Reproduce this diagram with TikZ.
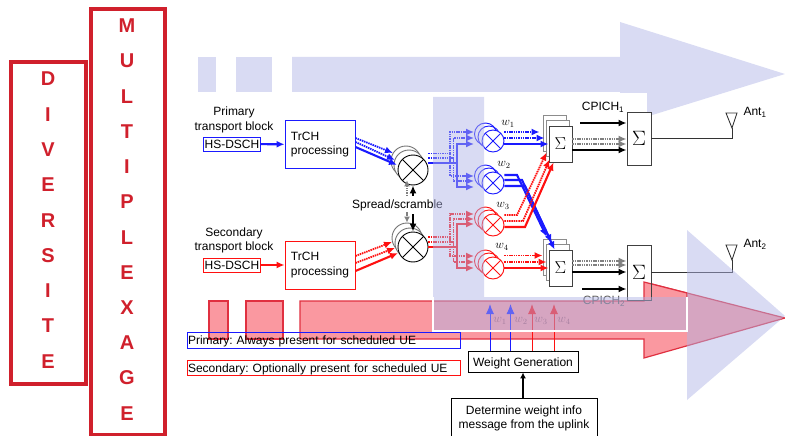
\documentclass[tikz,border=0pt]{standalone}
\usepackage{fontspec}
\setmainfont{Liberation Sans}
\usetikzlibrary{arrows.meta}
\definecolor{wblue}{HTML}{1A1AFF}
\definecolor{wred}{HTML}{FF1010}
\definecolor{paleblue}{HTML}{D9DBF3}
\definecolor{veilblue}{HTML}{B0B4E6}
\definecolor{pinkfill}{HTML}{FA98A0}
\definecolor{pinkline}{HTML}{E03040}
\definecolor{boxred}{HTML}{D0202C}
\definecolor{wlabel}{HTML}{9D4F60}
\frenchspacing
\tikzset{
    every node/.style={font=\fontsize{12}{14.4}\selectfont},
    letterbox/.style={draw=boxred, line width=3.5},
    bigletter/.style={text=boxred, font=\fontsize{20}{20}\selectfont\bfseries},
    tip/.style={-{Latex[length=8,width=7]}},
    thin tip/.style={-{Latex[length=6,width=6]}},
    trchbox/.style={draw, fill=white, minimum width=70, minimum height=48, align=left},
    hsbox/.style={draw, fill=white, inner sep=0pt, minimum width=57, minimum height=14},
    multnode/.style={circle, draw, fill=white, inner sep=0pt, minimum size=30, path picture={
        \draw (path picture bounding box.north west) -- (path picture bounding box.south east);
        \draw (path picture bounding box.south west) -- (path picture bounding box.north east);}},
    stackring/.style={circle, draw, inner sep=0pt},
    sumbox/.style={draw=black!75, fill=white, minimum width=23, minimum height=36, inner sep=0pt},
    stackbox/.style={draw=black!45, fill=white, minimum width=23, minimum height=36},
    dots/.style={dash pattern=on 1.5pt off 0.8pt, line width=1.8},
    solid line/.style={line width=2.1},
    antenna/.style={draw=black!80},
}
\begin{document}
\begin{tikzpicture}[x=1pt, y=-1pt, line width=0.9]
    \clip (0,0) rectangle (785,436);

    % Left boxes
    \node[letterbox, minimum width=75, minimum height=322] (diversite) at (48.5,223) {};
    \node[letterbox, minimum width=74, minimum height=426] (multiplexage) at (128,222) {};
    \foreach \i/\l in {0/D,1/I,2/V,3/E,4/R,5/S,6/I,7/T,8/E} {
        \node[bigletter] (div\i) at (48,79+\i*35.3) {\l};
    }
    \foreach \i/\l in {0/M,1/U,2/L,3/T,4/I,5/P,6/L,7/E,8/X,9/A,10/G,11/E} {
        \node[bigletter] (mul\i) at (127,26+\i*35.2) {\l};
    }

    % Upper arrow
    \fill[paleblue] (198,57) rectangle (216,92);
    \fill[paleblue] (236,57) rectangle (272,92);
    \fill[paleblue] (292,57) -- (620,57) -- (620,22) -- (785,74) -- (620,125) -- (620,92) -- (292,92) -- cycle;

    % White panel
    \fill[white] (484,93) rectangle (647,297);
    \fill[white] (647,230) rectangle (687,297);

    % Lower arrow
    \draw[pinkline, fill=pinkfill, line width=1.2] (209,301) rectangle (228,339);
    \draw[pinkline, fill=pinkfill, line width=1.2] (246,301) rectangle (283,339);
    \draw[pinkline, fill=pinkfill, line width=1.2] (300,301) -- (644,301) -- (644,282) -- (785,318) -- (644,358) -- (644,339) -- (300,339) -- cycle;

    % Transport blocks
    \node[align=center] (primary) at (234,120) {Primary\\transport block};
    \node[align=center] (secondary) at (234,240.5) {Secondary\\transport block};
    \node[hsbox, draw=wblue] (hsA) at (232,144) {HS-DSCH};
    \node[hsbox, draw=wred] (hsB) at (232,265) {HS-DSCH};
    \node[trchbox, draw=wblue] (trchA) at (320,144.5) {TrCH\\processing};
    \node[trchbox, draw=wred] (trchB) at (320,265) {TrCH\\processing};
    \draw[tip, wblue, solid line] (hsA) -- (trchA);
    \draw[tip, wred, solid line] (hsB) -- (trchB);

    % Spreaders
    \foreach \n/\x/\y in {A/406/161,B/409/165,C/407/238,D/410/243} {
        \node[multnode, draw=black!55, path picture={}] (ring\n) at (\x,\y) {};
    }
    \node[multnode] (ma) at (413,170) {};
    \node[multnode] (mb) at (413,247) {};
    \draw[tip, wblue, dots] (trchA.east |- 0,138) -- ([shift={(-20,-17)}]ma.center);
    \draw[tip, wblue, dots] (trchA.east |- 0,142) -- ([shift={(-18,-10)}]ma.center);
    \draw[tip, wblue, solid line] (trchA.east |- 0,147) -- ([shift={(-16,-5)}]ma.center);
    \draw[tip, wred, dots] (trchB.east |- 0,256) -- ([shift={(-21,-5)}]mb.center);
    \draw[tip, wred, dots] (trchB.east |- 0,263) -- ([shift={(-18,1)}]mb.center);
    \draw[tip, wred, solid line] (trchB.east |- 0,271) -- ([shift={(-15,6)}]mb.center);

    % Scrambling code
    \node (spread) at (397.5,205) {Spread/scramble};
    \draw[thin tip, black!50, dots] (407,196) -- (ringB.south -| 407,0);
    \draw[thin tip, black!50, dots] (407,212) -- (ringC.north -| 407,0);
    \draw[tip, line width=2.2] (spread.north -| ma) -- (ma);
    \draw[tip, line width=2.2] (spread.south -| mb) -- (mb);

    % Weighting
    \foreach \n/\y/\col in {1/141/wblue,2/183/wblue,3/225/wred,4/268/wred} {
        \node[stackring, minimum size=22, draw=\col] (wringa\n) at (485.5,\y-7) {};
        \node[stackring, minimum size=22, draw=\col] (wringb\n) at (489,\y-4) {};
        \node[multnode, minimum size=22, draw=\col] (mw\n) at (493,\y) {};
    }
    \foreach \x/\bus/\up/\dn/\rise/\fall/\col/\sty in {
            450/153.5/132/176/1/2/wblue/dots,
            453.5/158/138/181/1/2/wblue/dots,
            457/163/144/187/1/2/wblue/solid line,
            450/237/214/256/3/4/wred/dots,
            453.5/242/219/262/3/4/wred/dots,
            457/247/224/268/3/4/wred/solid line} {
        \draw[\col, \sty, line width=1.6] (\ifnum\rise=1 ma\else mb\fi.east |- 0,\bus) -- (\x,\bus);
        \draw[tip, \col, \sty, line width=1.6] (\x,\bus) -- (\x,\up) -- (wringa\rise.west |- 0,\up);
        \draw[tip, \col, \sty, line width=1.6] (\x,\bus) -- (\x,\dn) -- (wringa\fall.west |- 0,\dn);
    }
    \node (lw1) at (508,124) {$w_1$};
    \node (lw2) at (504,165) {$w_2$};
    \node (lw3) at (503,206) {$w_3$};
    \node (lw4) at (502,247) {$w_4$};

    % First sums
    \foreach \n/\y in {A/144,B/268} {
        \node[stackbox] (sbacka\n) at (554.5,\y-11) {};
        \node[stackbox] (sbackb\n) at (557.5,\y-6) {};
    }
    \node[sumbox] (sa) at (560.5,144) {\LARGE$\Sigma$};
    \node[sumbox] (sb) at (560.5,268) {\LARGE$\Sigma$};
    \draw[tip, wblue, dots] (mw1.east |- 0,132) -- ([xshift=-9]sa.west |- 0,132);
    \draw[tip, wblue, dots] (mw1.east |- 0,138) -- ([xshift=-4]sa.west |- 0,138);
    \draw[tip, wblue, solid line] (mw1.east |- 0,144) -- (sa.west |- 0,144);
    \draw[tip, wblue, solid line] (mw2.east |- 0,175) -- (517,175) -- ([shift={(-2,-13)}]sb.north west);
    \draw[tip, wblue, solid line] (mw2.east |- 0,180) -- (522,180) -- ([shift={(3,-7)}]sb.north west);
    \draw[tip, wblue, solid line] (mw2.east |- 0,186) -- (525,186) -- ([shift={(6,0)}]sb.north west);
    \draw[tip, wred, dots] (mw3.east |- 0,215) -- (517,215) -- ([shift={(-2,27)}]sa.north west);
    \draw[tip, wred, dots] (mw3.east |- 0,221) -- (523,221) -- ([shift={(1,34)}]sa.north west);
    \draw[tip, wred, solid line] (mw3.east |- 0,227) -- (525,227) -- ([shift={(5,37)}]sa.north west);
    \draw[tip, wred, dots] (mw4.east |- 0,255.5) -- ([xshift=-6]sb.west |- 0,255.5);
    \draw[tip, wred, dots] (mw4.east |- 0,262) -- ([xshift=-2]sb.west |- 0,262);
    \draw[tip, wred, solid line] (mw4.east |- 0,268) -- (sb.west |- 0,268);

    % Second sums
    \fill[white] (627,245) rectangle (651,297);
    \draw[pinkline, fill=pinkfill, line width=1.2] (644,297) -- (644,282) -- (651,283.8) -- (687,293) -- (687,297);
    \node[sumbox, fill=white, minimum width=24, minimum height=53] (sc) at (639,138.5) {\huge$\Sigma$};
    \node[sumbox, fill=none, minimum width=24, minimum height=55] (sd) at (639,272.5) {\huge$\Sigma$};
    \node (cpichA) at (603,107) {CPICH\textsubscript{1}};
    \node[text=black!65] (cpichB) at (604,301) {CPICH\textsubscript{2}};
    \coordinate (cpichAin) at (580,123);
    \coordinate (cpichBin) at (582,289);
    \draw[tip, line width=1.8] (cpichAin) -- (sc.west |- cpichAin);
    \draw[tip, line width=1.8] (cpichBin) -- (sd.west |- cpichBin);
    \draw[tip, black!50, dots] (sa.east |- 0,139) -- (sc.west |- 0,139);
    \draw[tip, black!50, dots] (sa.east |- 0,144) -- (sc.west |- 0,144);
    \draw[tip, line width=1.8] (sa.east |- 0,150) -- (sc.west |- 0,150);
    \draw[tip, black!50, dots] (sb.east |- 0,261) -- (sd.west |- 0,261);
    \draw[tip, black!50, dots] (sb.east |- 0,265) -- (sd.west |- 0,265);
    \draw[tip, line width=1.8] (sb.east |- 0,272) -- (sd.west |- 0,272);

    % Antennas
    \coordinate (antA) at (732,128);
    \coordinate (antB) at (732,260);
    \draw[antenna] (726,113) -- (737,113) -- (antA) -- cycle;
    \draw[antenna] (726,245) -- (737,245) -- (antB) -- cycle;
    \draw[antenna] (sc.east) -| (antA);
    \draw[antenna] (sd.east) -| (antB);
    \node (lantA) at (755,112) {Ant\textsubscript{1}};
    \node (lantB) at (755,244) {Ant\textsubscript{2}};

    % Weight generation
    \node[draw, fill=white, minimum width=110, minimum height=21, inner sep=0pt, text height=9, text depth=0] (wgen) at (523,361.5) {Weight Generation};
    \node[draw, fill=white, minimum width=146, minimum height=41, align=center, inner sep=0pt] (winfo) at (524,418.5) {Determine weight info\\message from the uplink};
    \draw[thin tip, line width=1.2] (winfo.north -| wgen) -- (wgen);
    \foreach \x/\col in {490/wblue,510.5/wblue,532/wred,554/wred} {
        \draw[{Latex[length=10,width=8]}-, \col, line width=1] (\x,304) -- (wgen.north -| \x,0);
    }
    \foreach \x/\i in {500/1,521/2,541/3,564/4} {
        \node[text=wlabel] (wl\i) at (\x,321) {$w_\i$};
    }

    % Blue veil
    \fill[veilblue, opacity=0.48] (433,97) -- (484,97) -- (484,297) -- (687,297) -- (687,230) -- (785,316) -- (687,400) -- (687,331) -- (433,331) -- cycle;
    \draw[white, line width=1.6] (433,297) -- (433,331) -- (687,331) -- (687,297);

    % Legend
    \node[draw=wblue, minimum width=273, minimum height=16, inner sep=0pt, text width=271, text height=9, text depth=0] (legendA) at (323.5,340) {Primary: Always present for scheduled UE};
    \node[draw=wred, fill=white, minimum width=273, minimum height=15, inner sep=0pt, text width=271, text height=9, text depth=0] (legendB) at (323.5,367.5) {Secondary: Optionally present for scheduled UE};
\end{tikzpicture}
\end{document}
